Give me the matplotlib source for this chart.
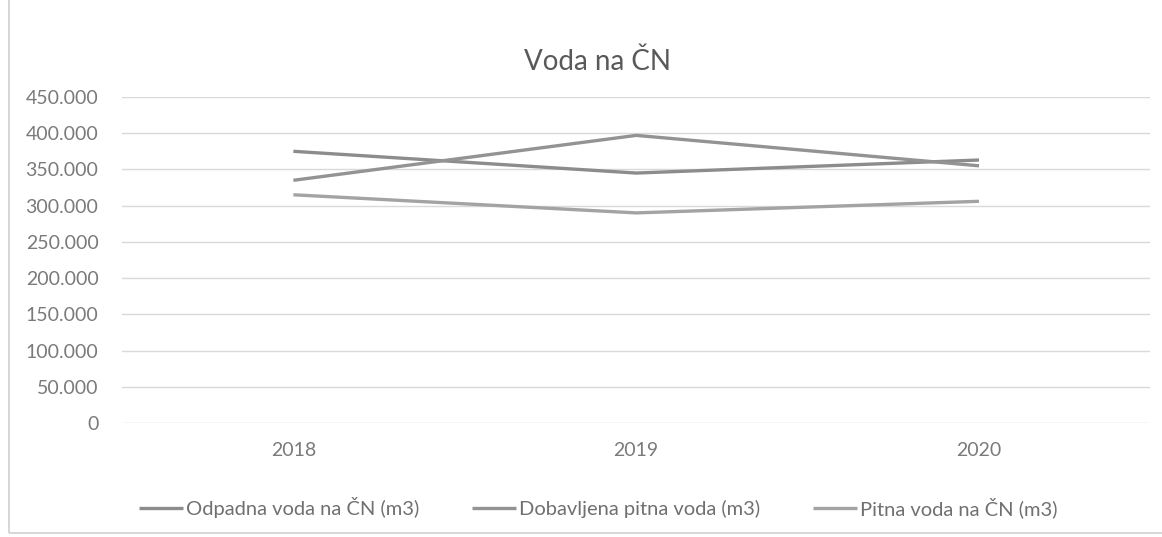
import matplotlib.pyplot as plt
from matplotlib.patches import Rectangle
from matplotlib.ticker import FuncFormatter

plt.rcParams['font.family'] = ['Lato', 'DejaVu Sans']

years = ["2018", "2019", "2020"]
odpadna = [375000, 345000, 363000]
dobavljena = [335000, 397000, 355000]
pitna = [315000, 290000, 306000]

labels = ["Odpadna voda na ČN (m3)", "Dobavljena pitna voda (m3)", "Pitna voda na ČN (m3)"]
colors = ["#8c8c8c", "#939393", "#a3a3a3"]

fig = plt.figure(figsize=(11.62, 5.37), dpi=100)
ax = fig.add_axes([0.105, 0.2123, 0.885, 0.6071])

x = range(len(years))
for vals, lab, col in zip([odpadna, dobavljena, pitna], labels, colors):
    ax.plot(x, vals, color=col, linewidth=2.4, label=lab, solid_capstyle='butt')

ax.set_xlim(-0.5, 2.5)
ax.set_ylim(0, 450000)
ax.set_yticks(range(0, 450001, 50000))
ax.yaxis.set_major_formatter(FuncFormatter(lambda v, p: f"{int(v):,}".replace(",", ".")))
ax.set_xticks(list(x))
ax.set_xticklabels(years)
ax.grid(axis='y', color='#d9d9d9', linewidth=1)
ax.set_axisbelow(True)
for s in ax.spines.values():
    s.set_visible(False)
ax.tick_params(length=0, labelsize=14, colors='#7a7a7a')
ax.tick_params(axis='y', pad=17)
ax.tick_params(axis='x', pad=14)

fig.text(0.514, 0.885, "Voda na ČN", ha='center', va='center', fontsize=20, color='#595959')

fig.legend(loc='center', bbox_to_anchor=(0.515, 0.055), ncol=3, frameon=False,
           fontsize=14.5, labelcolor='#707070', handlelength=2.2, handletextpad=0.15,
           columnspacing=2.6)

fig.patches.append(Rectangle((0.008, 0.008), 1.2, 1.1, transform=fig.transFigure,
                             fill=False, edgecolor='#d0d0d0', linewidth=1.2))

fig.savefig("out.png", dpi=100)
